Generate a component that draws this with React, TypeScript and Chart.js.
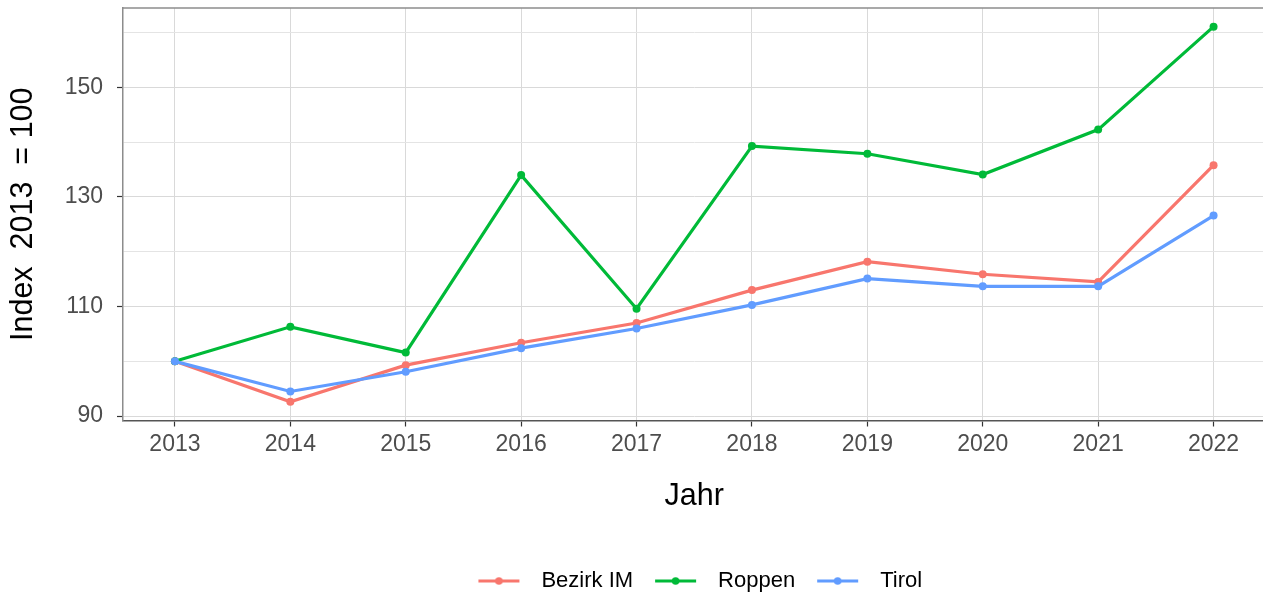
import React, { useEffect, useRef } from "react";
import { Chart, registerables } from "chart.js";

Chart.register(...registerables);

const years = [2013, 2014, 2015, 2016, 2017, 2018, 2019, 2020, 2021, 2022];
const bezirkIM = [100, 92.6, 99.3, 103.4, 107.0, 113.0, 118.2, 115.9, 114.5, 135.8];
const roppen = [100, 106.3, 101.6, 134.0, 109.6, 139.3, 137.9, 134.1, 142.3, 161.1];
const tirol = [100, 94.5, 98.1, 102.4, 106.0, 110.3, 115.1, 113.7, 113.7, 126.6];
const seriesNames = ["Bezirk IM", "Roppen", "Tirol"];
const seriesColors = ["#F8766D", "#00BA38", "#619CFF"];
const yMajorTicks = [90, 110, 130, 150];
const yMinorTicks = [100, 120, 140, 160];
const xTitle = "Jahr";
const yTitle = "Index  2013  = 100";

const FONT = "'Liberation Sans', Arial, sans-serif";

function makeLegendImage(color: string): HTMLCanvasElement {
  const c = document.createElement("canvas");
  c.width = 64;
  c.height = 12;
  const g = c.getContext("2d")!;
  g.strokeStyle = color;
  g.lineWidth = 3.2;
  g.beginPath();
  g.moveTo(12, 6);
  g.lineTo(53, 6);
  g.stroke();
  g.fillStyle = color;
  g.beginPath();
  g.arc(32.5, 6, 3.8, 0, Math.PI * 2);
  g.fill();
  return c;
}

const topBorderPlugin = {
  id: "topBorder",
  beforeDatasetsDraw(chart: any) {
    const { ctx, chartArea } = chart;
    ctx.save();
    ctx.strokeStyle = "#8c8c8c";
    ctx.lineWidth = 1.5;
    ctx.beginPath();
    ctx.moveTo(chartArea.left, chartArea.top);
    ctx.lineTo(chartArea.right, chartArea.top);
    ctx.stroke();
    ctx.restore();
  },
};

export default function App() {
  const ref = useRef<HTMLCanvasElement | null>(null);

  useEffect(() => {
    if (!ref.current) return;
    const values = [bezirkIM, roppen, tirol];
    const images = seriesColors.map(makeLegendImage);
    const datasets = seriesNames.map((name, i) => ({
      label: name,
      data: years.map((yr, j) => ({ x: yr, y: values[i][j] })),
      borderColor: seriesColors[i],
      backgroundColor: seriesColors[i],
      pointBackgroundColor: seriesColors[i],
      pointBorderWidth: 0,
      pointRadius: 4,
      borderWidth: 3.2,
      tension: 0,
      fill: false,
      order: 3 - i,
    }));

    const chart = new Chart(ref.current, {
      type: "line",
      data: { datasets },
      plugins: [topBorderPlugin],
      options: {
        animation: false,
        responsive: false,
        devicePixelRatio: 1,
        layout: { padding: { top: 8, left: 0, right: 9.5, bottom: 0 } },
        plugins: {
          tooltip: { enabled: false },
          legend: {
            position: "bottom",
            fullSize: false,
            maxHeight: 36,
            labels: {
              usePointStyle: true,
              pointStyleWidth: 64,
              padding: 10,
              color: "#000000",
              font: { family: FONT, size: 22 },
              sort: (a: any, b: any) => a.datasetIndex - b.datasetIndex,
              generateLabels: () =>
                seriesNames.map((n, i) => ({
                  text: n,
                  pointStyle: images[i],
                  fillStyle: "rgba(0,0,0,0)",
                  strokeStyle: "rgba(0,0,0,0)",
                  lineWidth: 0,
                  hidden: false,
                  datasetIndex: i,
                  fontColor: "#000000",
                })) as any,
            },
          },
        },
        scales: {
          x: {
            type: "linear",
            min: 2012.55,
            max: 2022.45,
            afterBuildTicks: (s: any) => {
              s.ticks = years.map((v) => ({ value: v }));
            },
            afterFit: (s: any) => {
              s.height = 139.5;
              s.paddingLeft = 0;
              s.paddingRight = 0;
            },
            ticks: {
              callback: (v: any) => String(v),
              color: "#4D4D4D",
              font: { family: FONT, size: 23 },
              padding: 4,
              maxRotation: 0,
              autoSkip: false,
            },
            grid: {
              color: "#d9d9d9",
              lineWidth: 1,
              tickLength: 6,
              tickColor: "#333333",
              tickWidth: 1.2,
            },
            border: { color: "#555555", width: 1.6 },
            title: {
              display: true,
              text: xTitle,
              color: "#000000",
              font: { family: FONT, size: 30.5 },
              padding: { top: 0, bottom: 45 },
            },
          },
          y: {
            type: "linear",
            min: 89.2,
            max: 164.5,
            afterBuildTicks: (s: any) => {
              s.ticks = [...yMajorTicks, ...yMinorTicks]
                .sort((a, b) => a - b)
                .map((v) => ({ value: v }));
            },
            afterFit: (s: any) => {
              s.width = 123;
              s.paddingTop = 0;
              s.paddingBottom = 0;
            },
            ticks: {
              callback: (v: any) => (yMajorTicks.includes(Number(v)) ? String(v) : ""),
              color: "#4D4D4D",
              font: { family: FONT, size: 23 },
              padding: 14,
              autoSkip: false,
            },
            grid: {
              color: (c: any) =>
                yMajorTicks.includes(c.tick?.value) ? "#d9d9d9" : "#e4e4e4",
              lineWidth: 1,
              tickLength: 6,
              tickColor: (c: any) =>
                yMajorTicks.includes(c.tick?.value) ? "#333333" : "rgba(0,0,0,0)",
              tickWidth: 1.2,
            },
            border: { color: "#8c8c8c", width: 1.5 },
            title: {
              display: true,
              text: yTitle,
              color: "#000000",
              font: { family: FONT, size: 30.5 },
              padding: { top: 5.7, bottom: 0 },
            },
          },
        },
      } as any,
    });
    return () => chart.destroy();
  }, []);

  return (
    <div
      style={{
        position: "absolute",
        left: 0,
        top: 0,
        width: 1263,
        height: 596,
        overflow: "hidden",
        background: "#ffffff",
      }}
    >
      <canvas
        ref={ref}
        width={1275}
        height={596}
        style={{ width: 1275, height: 596, display: "block" }}
      />
    </div>
  );
}
